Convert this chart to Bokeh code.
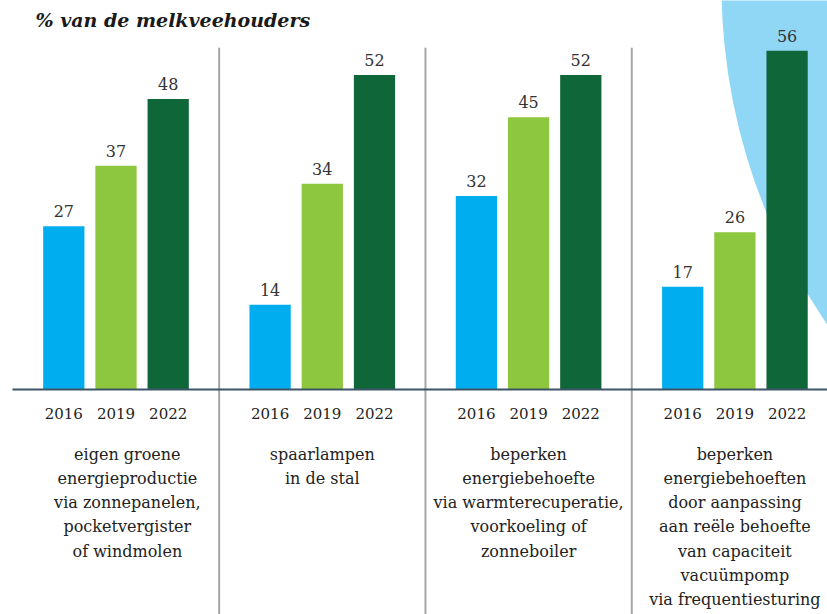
from bokeh.plotting import figure
from bokeh.models import Range1d, ColumnDataSource, Label
from bokeh.core.properties import value
from bokeh.embed import file_html
from bokeh.resources import INLINE

# ---- data ----
categories = [
    "eigen groene\nenergieproductie\nvia zonnepanelen,\npocketvergister\nof windmolen",
    "spaarlampen\nin de stal",
    "beperken\nenergiebehoefte\nvia warmterecuperatie,\nvoorkoeling of\nzonneboiler",
    "beperken\nenergiebehoeften\ndoor aanpassing\naan reële behoefte\nvan capaciteit\nvacuümpomp\nvia frequentiesturing",
]
years = ["2016", "2019", "2022"]
v2016 = [27, 14, 32, 17]
v2019 = [37, 34, 45, 26]
v2022 = [48, 52, 52, 56]
title_text = "% van de melkveehouders"

# ---- styling ----
colors = ["#00AEEF", "#8DC63F", "#0F6638"]
FONT = "DejaVu Serif"
W, H = 827, 614
PX_PER_GROUP = 206.3
GROUP0_PX = 115.5
BASE_PX = 389
PX_PER_UNIT = 6.05
offsets = [-0.253, 0.0, 0.253]
bar_w = 0.2
label_shift = [0.055, 0.0, 0.0, 0.0]

x_start = -GROUP0_PX / PX_PER_GROUP
x_end = (W - GROUP0_PX) / PX_PER_GROUP
y_top = BASE_PX / PX_PER_UNIT
y_bot = -(H - BASE_PX) / PX_PER_UNIT

p = figure(width=W, height=H, output_backend="svg", toolbar_location=None,
           x_range=Range1d(x_start, x_end), y_range=Range1d(y_bot, y_top),
           min_border=0)
p.axis.visible = False
p.grid.visible = False
p.outline_line_color = None
p.background_fill_color = "white"

# decorative background circle (top right)
cx = (1318 - GROUP0_PX) / PX_PER_GROUP
cy = (BASE_PX + 15) / PX_PER_UNIT
p.circle(x=[cx], y=[cy], radius=597, radius_units="screen",
         fill_color="#8FD7F5", line_color=None)

# separators
n = len(categories)
p.segment(x0=[i + 0.5 for i in range(n - 1)], y0=[y_bot] * (n - 1),
          x1=[i + 0.5 for i in range(n - 1)], y1=[56.5] * (n - 1),
          line_color="#a6a6a6", line_width=2)

series = [v2016, v2019, v2022]
for k, (yr, vals) in enumerate(zip(years, series)):
    xs = [i + offsets[k] for i in range(n)]
    src = ColumnDataSource(dict(x=xs, top=vals, lab=[str(v) for v in vals],
                                yr=[yr] * n))
    p.vbar(x="x", top="top", bottom=0, width=bar_w, source=src,
           fill_color=colors[k], line_color=None)
    p.text(x="x", y="top", text="lab", source=src, y_offset=-9,
           text_align="center", text_baseline="bottom",
           text_font=value(FONT), text_font_size="16px", text_color="#333333")
    p.text(x="x", y=0, text="yr", source=src, y_offset=24,
           text_align="center", text_baseline="middle",
           text_font=value(FONT), text_font_size="15px", text_color="#222222")

# baseline
p.segment(x0=[-0.502], y0=[0], x1=[x_end], y1=[0], line_color="#3d5566", line_width=2)

# category labels
csrc = ColumnDataSource(dict(x=[i + label_shift[i] for i in range(n)], y=[0] * n, t=categories))
p.text(x="x", y="y", text="t", source=csrc, y_offset=55,
       text_align="center", text_baseline="top", text_line_height=1.28,
       text_font=value(FONT), text_font_size="16px", text_color="#222222")

p.add_layout(Label(x=35, y=H - 19, x_units="screen", y_units="screen", text=title_text,
                   text_font=FONT, text_font_style="bold italic",
                   text_font_size="19px", text_color="#1a1a1a",
                   text_baseline="alphabetic"))

open("out.html", "w").write(file_html(p, INLINE))
